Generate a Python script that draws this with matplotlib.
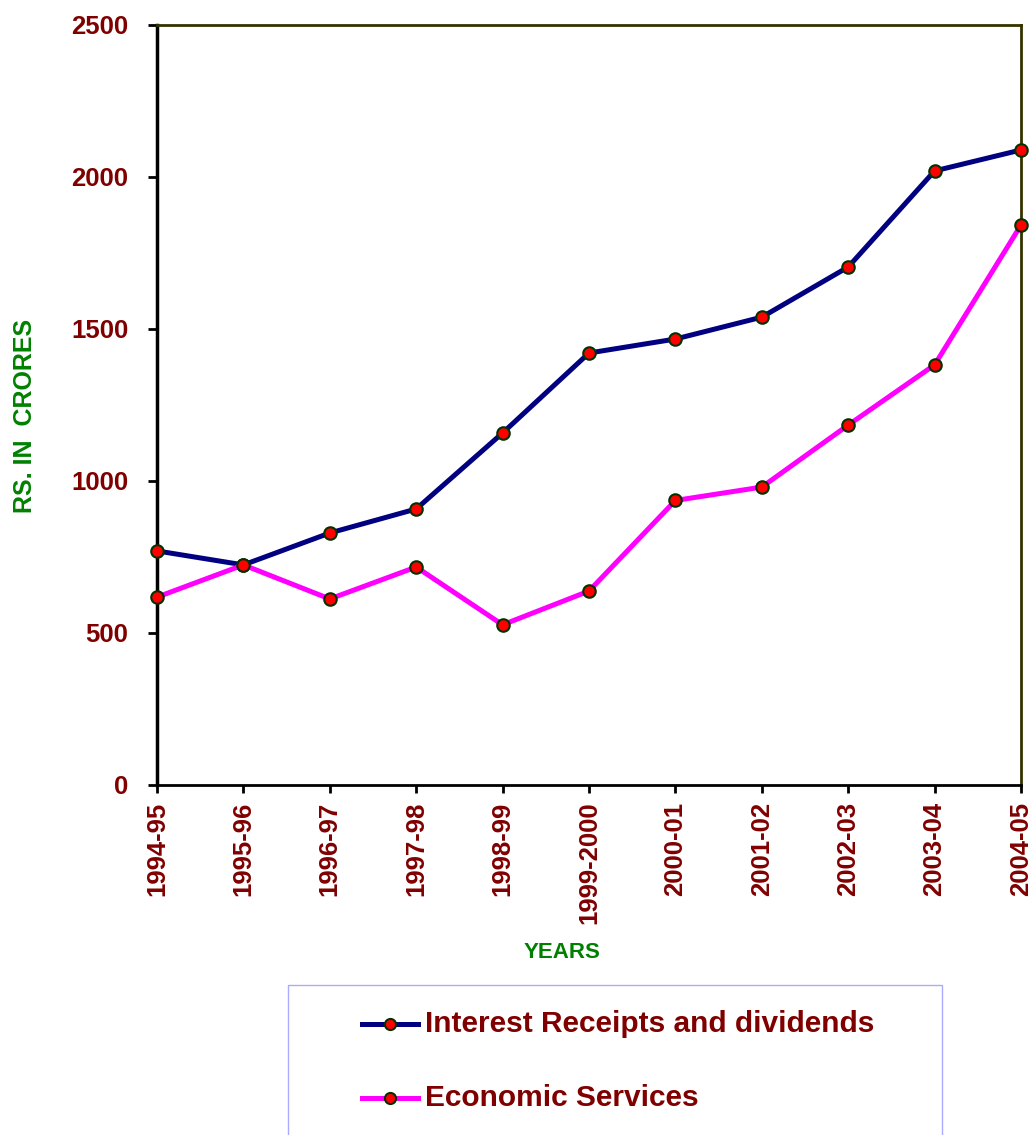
import matplotlib.pyplot as plt
from matplotlib.patches import Rectangle
from matplotlib.lines import Line2D

years = ["1994-95", "1995-96", "1996-97", "1997-98", "1998-99", "1999-2000",
         "2000-01", "2001-02", "2002-03", "2003-04", "2004-05"]
interest = [770, 724, 829, 908, 1158, 1421, 1467, 1539, 1704, 2020, 2089]
economic = [618, 724, 612, 717, 527, 638, 936, 980, 1184, 1382, 1842]
yticks = [0, 500, 1000, 1500, 2000, 2500]

plt.rcParams['font.family'] = ['Liberation Sans', 'DejaVu Sans']

W, H = 1036, 1135
fig = plt.figure(figsize=(W / 100, H / 100), dpi=100)
ax = fig.add_axes([157 / W, 1 - 785 / H, (1021 - 157) / W, (785 - 25) / H])

x = list(range(len(years)))
mk = dict(marker='o', markersize=9, markerfacecolor='#ff0000',
          markeredgecolor='#003300', markeredgewidth=1.5, clip_on=False, zorder=3)
ax.plot(x, interest, color='#000080', linewidth=3.6, **mk)
ax.plot(x, economic, color='#ff00ff', linewidth=3.6, **mk)

ax.set_xlim(0, len(years) - 1)
ax.set_ylim(0, 2500)
ax.set_xticks(x)
ax.set_xticklabels(years, rotation=90, fontsize=18.5, fontweight='bold', color='#800000')
ax.set_yticks(yticks)
ax.set_yticklabels([str(v) for v in yticks], fontsize=18.5, fontweight='bold', color='#800000')
ax.tick_params(axis='y', direction='out', length=6.5, width=2, pad=14, color='black')
ax.tick_params(axis='x', direction='out', length=6, width=2, pad=6, color='black')

ax.spines['left'].set_color('black')
ax.spines['left'].set_linewidth(2.5)
ax.spines['bottom'].set_color('black')
ax.spines['bottom'].set_linewidth(2)
for s in ['top', 'right']:
    ax.spines[s].set_color('#333300')
    ax.spines[s].set_linewidth(2)

fig.text(25 / W, 1 - 416 / H, "RS. IN  CRORES", rotation=90, ha='center', va='center',
         fontsize=18, fontweight='bold', color='#008000')
fig.text(562 / W, 1 - 952 / H, "YEARS", ha='center', va='center',
         fontsize=16, fontweight='bold', color='#008000')

# legend box (runs off the bottom edge)
fig.patches.append(Rectangle((288 / W, -0.01), (942 - 288) / W, 0.01 + 1 - 985 / H,
                             transform=fig.transFigure, fill=False,
                             edgecolor='#aaaaff', linewidth=1))

labels = ["Interest Receipts and dividends", "Economic Services"]
colors = ['#000080', '#ff00ff']
rows = [1024, 1098]
for lab, c, yy in zip(labels, colors, rows):
    fy = 1 - yy / H
    fig.add_artist(Line2D([362 / W, 418 / W], [fy, fy], transform=fig.transFigure,
                          color=c, linewidth=3.6))
    fig.add_artist(Line2D([390 / W], [fy], transform=fig.transFigure, marker='o',
                          markersize=8, markerfacecolor='#ff0000',
                          markeredgecolor='#003300', markeredgewidth=1.5))
    fig.text(425 / W, fy, lab, ha='left', va='center', fontsize=21.5,
             fontweight='bold', color='#800000')

fig.savefig("out.png", dpi=100)
